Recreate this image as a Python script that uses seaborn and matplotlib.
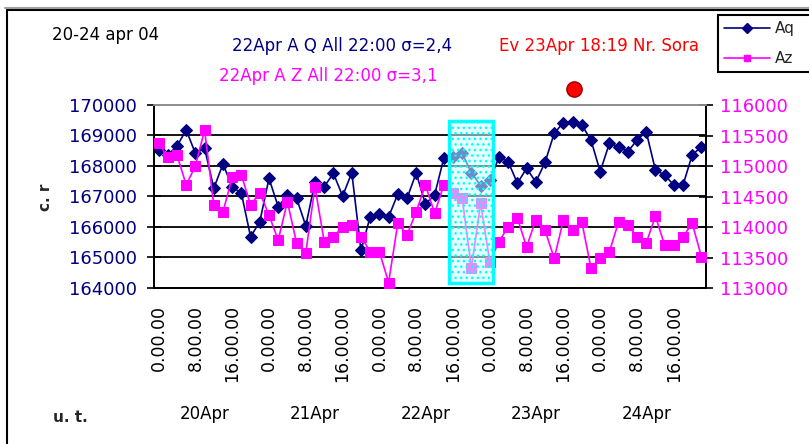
import matplotlib
matplotlib.use("Agg")
import matplotlib.pyplot as plt
import matplotlib.transforms as mtransforms
from matplotlib.lines import Line2D
from matplotlib.patches import Rectangle
import numpy as np
import pandas as pd
import seaborn as sns

# Two-hourly readings, 20 Apr 00:00 .. 24 Apr 22:00
aq = [168525, 168360, 168655, 169180, 168415, 168580, 167270, 168065, 167320, 167105,
      165680, 166175, 167595, 166665, 167050, 166940, 166035, 167485, 167320, 167760,
      167015, 167780, 165230, 166340, 166425, 166330, 167080, 166940, 167770, 166755,
      167050, 168250, 168295, 168415, 167780, 167360, 167540, 168285, 168140, 167435,
      167925, 167475, 168115, 169070, 169425, 169435, 169345, 168850, 167815, 168745,
      168635, 168470, 168850, 169125, 167870, 167705, 167375, 167375, 168360, 168635]
az = [115370, 115150, 115180, 114690, 115000, 115590, 114360, 114250, 114815, 114850,
      114360, 114560, 114195, 113785, 114415, 113735, 113580, 114660, 113760, 113840,
      114005, 114035, 113840, 113595, 113595, 113090, 114060, 113870, 114250, 114690,
      114225, 114690, 114565, 114470, 113325, 114390, 113430, 113760, 114005, 114145,
      113675, 114115, 113950, 113485, 114115, 113950, 114085, 113325, 113485, 113595,
      114085, 114035, 113840, 113735, 114180, 113705, 113705, 113840, 114060, 113515]

days = ["20Apr", "21Apr", "22Apr", "23Apr", "24Apr"]
time_labels = ["0.00.00", "8.00.00", "16.00.00"] * 5
aq_ticks = [164000, 165000, 166000, 167000, 168000, 169000, 170000]
az_ticks = [113000, 113500, 114000, 114500, 115000, 115500, 116000]

# event: 23 Apr 18:19
event_day, event_hour, event_min = 3, 18, 19

NAVY = "#000080"
MAG = "#FF00FF"

sns.set_style("white")
plt.rcParams["font.family"] = ["DejaVu Sans"]

W, H = 809, 444
fig = plt.figure(figsize=(W / 100, H / 100), dpi=100)
fig.patch.set_facecolor("white")

def fx(px):
    return px / W

def fy(py):
    return 1 - py / H

ax = fig.add_axes([fx(154), fy(288), (706 - 154) / W, (288 - 105) / H])
ax2 = ax.twinx()

df = pd.DataFrame({"i": np.arange(len(aq)), "Aq": aq, "Az": az})

sns.lineplot(data=df, x="i", y="Aq", ax=ax, color=NAVY, linewidth=1.2,
             marker="D", markersize=6.5, markeredgecolor=NAVY,
             markerfacecolor=NAVY, zorder=3)
sns.lineplot(data=df, x="i", y="Az", ax=ax2, color=MAG, linewidth=1.2,
             marker="s", markersize=6.5, markeredgecolor=MAG,
             markerfacecolor=MAG, zorder=3)

n = len(aq)
ax.set_xlim(-0.5, n - 0.5)
ax.set_ylim(aq_ticks[0], aq_ticks[-1])
ax2.set_ylim(az_ticks[0], az_ticks[-1])
ax.set_xlabel("")
ax.set_ylabel("")
ax2.set_ylabel("")

# y axes
ax.set_yticks(aq_ticks)
ax.set_yticklabels([str(v) for v in aq_ticks])
ax2.set_yticks(az_ticks)
ax2.set_yticklabels([str(v) for v in az_ticks])
ax.tick_params(axis="y", direction="inout", length=10, width=1.2, color="black",
               labelcolor=NAVY, labelsize=13, pad=7)
ax2.tick_params(axis="y", direction="inout", length=10, width=1.2, color="black",
                labelcolor=MAG, labelsize=13, pad=5)

# horizontal gridlines
ax.yaxis.grid(True, color="black", linewidth=1.3)
ax.xaxis.grid(False)
ax2.grid(False)
gl = ax.get_ygridlines()
gl[0].set_visible(False)
gl[-1].set_visible(False)

# x axis: ticks between categories, labels every 8 hours
ax.set_xticks(np.arange(0, n, 4))
ax.set_xticklabels(time_labels, rotation=90, va="top", ha="center")
ax.set_xticks(np.arange(-0.5, n, 1.0), minor=True)
ax.tick_params(axis="x", which="major", length=0, labelsize=12.5, pad=12,
               labelcolor="black")
ax.tick_params(axis="x", which="minor", direction="out", length=6, width=1.2,
               color="black")

for a in (ax, ax2):
    for side in ("left", "right", "bottom"):
        a.spines[side].set_color("black")
        a.spines[side].set_linewidth(1.3)
    a.spines["top"].set_color("#909090")
    a.spines["top"].set_linewidth(1.3)
    a.spines["top"].set_visible(True)
    a.spines["right"].set_visible(True)

# day labels beneath the hour labels
tr_days = mtransforms.blended_transform_factory(ax.transData, fig.transFigure)
for d, name in enumerate(days):
    ax.text(5 + 12 * d, fy(414), name, transform=tr_days, ha="center",
            va="center", fontsize=12, color="black")

# highlighted window 22 Apr 16:00 - 23 Apr 00:00
tr_box = mtransforms.blended_transform_factory(ax2.transData, ax2.transAxes)
win_start, win_end = 32, 36
plt.rcParams["hatch.linewidth"] = 1.0
box = Rectangle((win_start - 0.4, 0.03), (win_end - win_start) + 0.8, 0.88,
                transform=tr_box, facecolor=(0.80, 1.0, 1.0, 0.55),
                edgecolor="#00FFFF", linewidth=2.5, hatch="...", zorder=6)
ax2.add_patch(box)

# event marker above the plot
event_x = (event_day * 24 + event_hour + event_min / 60) / 2
ax2.plot([event_x], [1.087], transform=tr_box, marker="o", markersize=11,
         markerfacecolor="#FF0000", markeredgecolor="#990000",
         markeredgewidth=1.0, clip_on=False, zorder=7)

# annotations
fig.text(fx(52), fy(35), "20-24 apr 04", fontsize=12, color="black",
         ha="left", va="center")
fig.text(fx(232), fy(46), "22Apr A Q All 22:00 σ=2,4", fontsize=12, color=NAVY,
         ha="left", va="center")
fig.text(fx(499), fy(46), "Ev 23Apr 18:19 Nr. Sora", fontsize=12, color="#FF0000",
         ha="left", va="center")
fig.text(fx(219), fy(76), "22Apr A Z All 22:00 σ=3,1", fontsize=12, color=MAG,
         ha="left", va="center")

fig.text(fx(45), fy(197), "c. r", fontsize=11, fontweight="bold", rotation=90,
         ha="center", va="center")
fig.text(fx(70), fy(417), "u. t.", fontsize=11, fontweight="bold",
         ha="center", va="center")

# legend
handles = [Line2D([], [], color=NAVY, lw=1.2, marker="D", markersize=5,
                  markerfacecolor=NAVY, markeredgecolor=NAVY),
           Line2D([], [], color=MAG, lw=1.2, marker="s", markersize=5,
                  markerfacecolor=MAG, markeredgecolor=MAG)]
leg = fig.legend(handles, ["Aq", "Az"], loc="upper left",
                 bbox_to_anchor=(fx(718), fy(79), 120 / W, 64 / H),
                 mode="expand", fontsize=11, handlelength=3.0,
                 handletextpad=0.3, labelspacing=1.0, borderpad=0.4,
                 borderaxespad=0.0, fancybox=False, framealpha=1,
                 edgecolor="black")
leg.get_frame().set_linewidth(1.5)

# chart border
fig.add_artist(Line2D([fx(7), fx(7)], [0, fy(10)], transform=fig.transFigure,
                      color="black", lw=1.5))
fig.add_artist(Line2D([fx(7), 1], [fy(10), fy(10)], transform=fig.transFigure,
                      color="black", lw=1.5))
fig.add_artist(Line2D([fx(5), 1], [fy(8), fy(8)], transform=fig.transFigure,
                      color="#A0A0A0", lw=1.5))

fig.savefig("out.png", dpi=100, facecolor="white")
